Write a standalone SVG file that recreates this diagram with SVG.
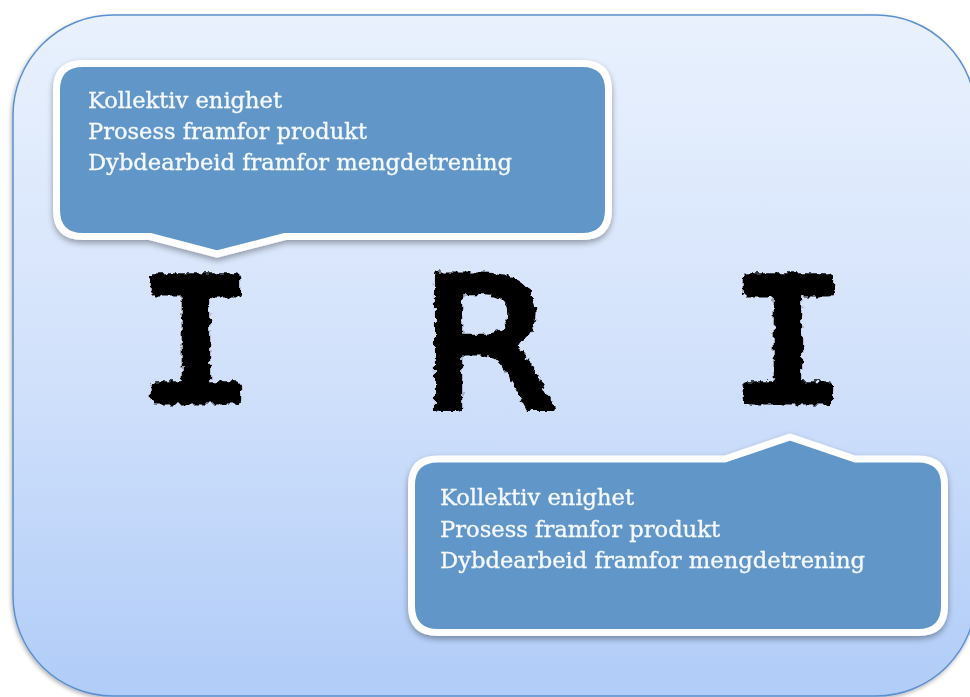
<svg xmlns="http://www.w3.org/2000/svg" width="970" height="697" viewBox="0 0 970 697">
  <defs>
    <linearGradient id="panelFill" x1="0" y1="0" x2="0" y2="1">
      <stop offset="0" stop-color="#e9f1fd"/>
      <stop offset="0.5" stop-color="#d3e2fb"/>
      <stop offset="1" stop-color="#b0ccf8"/>
    </linearGradient>
    <filter id="softShadow" x="-10%" y="-10%" width="120%" height="130%">
      <feGaussianBlur in="SourceAlpha" stdDeviation="3"/>
      <feOffset dx="0" dy="3" result="b"/>
      <feComponentTransfer><feFuncA type="linear" slope="0.35"/></feComponentTransfer>
      <feMerge><feMergeNode/><feMergeNode in="SourceGraphic"/></feMerge>
    </filter>
    <filter id="panelShadow" x="-5%" y="-5%" width="110%" height="110%">
      <feGaussianBlur in="SourceAlpha" stdDeviation="2"/>
      <feOffset dx="-1" dy="2"/>
      <feComponentTransfer><feFuncA type="linear" slope="0.3"/></feComponentTransfer>
      <feMerge><feMergeNode/><feMergeNode in="SourceGraphic"/></feMerge>
    </filter>
    <!-- rough, brush-like edges for the big letters -->
    <filter id="brush" x="-20%" y="-20%" width="140%" height="140%">
      <feTurbulence type="fractalNoise" baseFrequency="0.16" numOctaves="2" seed="4" result="n"/>
      <feDisplacementMap in="SourceGraphic" in2="n" scale="8" xChannelSelector="R" yChannelSelector="G"/>
    </filter>
    <style>
      .bubble { fill: #6096c8; stroke: #ffffff; stroke-width: 7; stroke-linejoin: round; }
      .btext { font-family: "DejaVu Serif", "Liberation Serif", serif; font-size: 22.5px; fill: #f6f9fd; stroke: #f6f9fd; stroke-width: 0.35px; }
      .big { fill: #000000; stroke: #000000; stroke-linejoin: round; }
      .bigI { font-family: "Liberation Mono", monospace; font-size: 186px; stroke-width: 9px; }
    </style>
  </defs>

  <!-- background panel -->
  <g id="panel">
    <rect x="13" y="15" width="963" height="681" rx="100" ry="100" fill="url(#panelFill)" stroke="#5b8fd0" stroke-width="1.5" filter="url(#panelShadow)"/>
  </g>

  <!-- upper callout, pointing down to the first I -->
  <g id="callout-top" filter="url(#softShadow)">
    <path class="bubble" d="M83,63.5 H582 Q608.5,63.5 608.5,90 V210 Q608.5,236.5 582,236.5 H285 L217,254 L150,236.5 H83 Q56.5,236.5 56.5,210 V90 Q56.5,63.5 83,63.5 Z"/>
    <text class="btext" x="88" y="108" textLength="194" lengthAdjust="spacingAndGlyphs">Kollektiv enighet</text>
    <text class="btext" x="88" y="139" textLength="279" lengthAdjust="spacingAndGlyphs">Prosess framfor produkt</text>
    <text class="btext" x="88" y="170" textLength="424" lengthAdjust="spacingAndGlyphs">Dybdearbeid framfor mengdetrening</text>
  </g>

  <!-- the three letters -->
  <g id="letter-i1" filter="url(#brush)">
    <text class="big bigI" transform="translate(196,400) scale(1.08,1)" text-anchor="middle">I</text>
  </g>
  <g id="letter-r" filter="url(#brush)">
    <text class="big" transform="translate(488,408) scale(1.12,1.02)" text-anchor="middle" font-family="DejaVu Sans, sans-serif" font-size="176" stroke-width="7">R</text>
  </g>
  <g id="letter-i2" filter="url(#brush)">
    <text class="big bigI" transform="translate(788,400) scale(1.08,1)" text-anchor="middle">I</text>
  </g>

  <!-- lower callout, pointing up to the second I -->
  <g id="callout-bottom" filter="url(#softShadow)">
    <path class="bubble" d="M438,459 H725 L790,437 L855,459 H918 Q944.5,459 944.5,485 V606 Q944.5,632.5 918,632.5 H438 Q411.5,632.5 411.5,606 V485 Q411.5,459 438,459 Z"/>
    <text class="btext" x="440" y="505" textLength="194" lengthAdjust="spacingAndGlyphs">Kollektiv enighet</text>
    <text class="btext" x="440" y="537" textLength="280" lengthAdjust="spacingAndGlyphs">Prosess framfor produkt</text>
    <text class="btext" x="440" y="568" textLength="425" lengthAdjust="spacingAndGlyphs">Dybdearbeid framfor mengdetrening</text>
  </g>

  <g id="connectors"/>
</svg>
